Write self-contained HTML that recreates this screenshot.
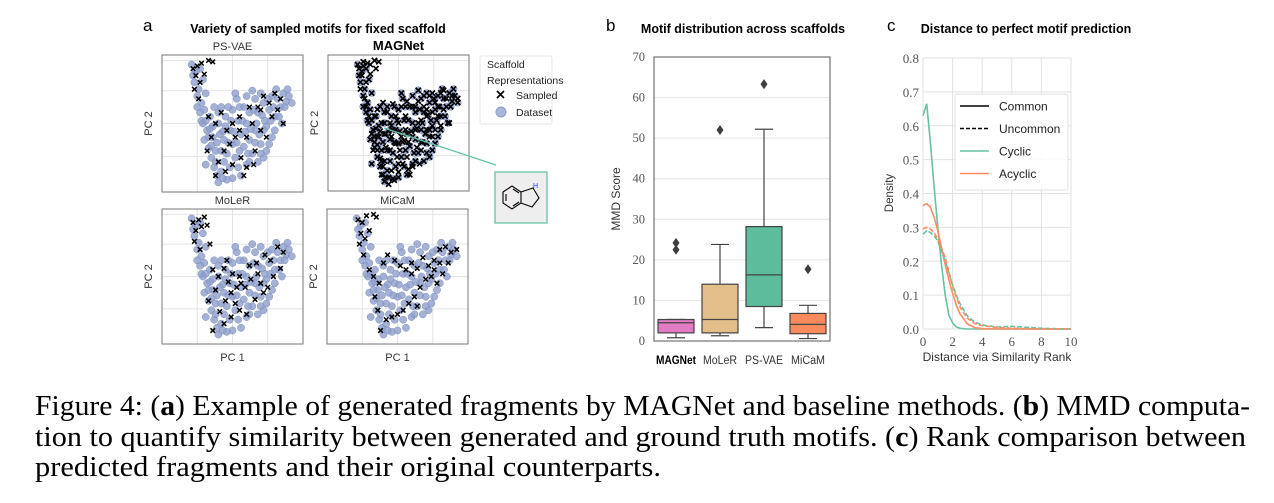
<!DOCTYPE html>
<html><head><meta charset="utf-8"><style>
html,body{margin:0;padding:0;background:#fff;}
svg{display:block;}
.sans{font-family:"Liberation Sans","DejaVu Sans",sans-serif;}
.serif{font-family:"Liberation Serif","DejaVu Serif",serif;}
</style></head><body>
<svg id="fig" width="1274" height="503" viewBox="0 0 1274 503" xmlns="http://www.w3.org/2000/svg">
<g id="pa"></g>
<g id="pb"></g>
<g id="pc"></g>
<g id="cap" class="serif" font-size="28" fill="#000">
<text x="35" y="415" textLength="1215" lengthAdjust="spacingAndGlyphs">Figure 4: (<tspan font-weight="bold">a</tspan>) Example of generated fragments by MAGNet and baseline methods. (<tspan font-weight="bold">b</tspan>) MMD computa-</text>
<text x="35" y="446" textLength="1211" lengthAdjust="spacingAndGlyphs">tion to quantify similarity between generated and ground truth motifs. (<tspan font-weight="bold">c</tspan>) Rank comparison between</text>
<text x="35" y="476" textLength="626" lengthAdjust="spacingAndGlyphs">predicted fragments and their original counterparts.</text>
</g>
</svg>
<script>
// ---------- Panel a data (normalized PC coordinates) ----------
const datasetPts = [[.21,.93],[.24,.88],[.27,.9],[.23,.8],[.26,.75],[.29,.82],[.25,.7],[.28,.65],[.31,.72],[.3,.6],[.27,.58],
[.29,.5],[.32,.45],[.3,.38],[.33,.32],[.35,.25],[.37,.18],[.39,.12],[.4,.07],[.42,.15],[.44,.22],[.38,.3],[.36,.4],[.34,.55],
[.4,.5],[.45,.55],[.5,.6],[.48,.45],[.44,.38],[.5,.35],[.46,.28],[.52,.25],[.48,.18],[.55,.3],[.56,.42],[.6,.5],[.58,.62],[.62,.38],[.64,.28],[.6,.2],[.66,.45],[.68,.58],[.7,.35],[.72,.65],[.74,.48],[.76,.6],[.78,.7],[.8,.55],[.82,.68],[.84,.62],[.86,.72],[.88,.66],[.9,.7],[.78,.4],[.72,.25],[.42,.62],[.54,.52],[.66,.68],[.56,.12],[.5,.1],[.46,.09],[.62,.58],[.36,.48],[.74,.3],[.85,.5],[.92,.65],[.53,.68],[.6,.7],[.7,.72],[.31,.2],[.43,.44],[.58,.33],[.68,.22],[.39,.36],
[.22,.85],[.25,.62],[.28,.52],[.31,.52],[.33,.4],[.35,.34],[.37,.62],[.4,.58],[.42,.3],[.41,.42],[.45,.48],[.47,.62],[.49,.52],[.51,.44],[.53,.36],[.55,.62],[.57,.52],[.59,.44],[.61,.28],[.63,.46],[.65,.6],[.67,.5],[.69,.42],[.71,.56],[.73,.52],[.75,.68],[.77,.52],[.79,.62],[.81,.75],[.83,.55],[.87,.62],[.89,.75],[.76,.35],[.7,.28],[.66,.36],[.62,.22],[.54,.18],[.47,.36],[.43,.1],[.38,.22],[.34,.46],[.52,.72],[.64,.74],[.8,.45],[.72,.45]];
const psvaeSampled = [[.22,.9],[.25,.92],[.28,.94],[.24,.85],[.27,.8],[.23,.75],[.26,.68],[.3,.86],[.33,.96],[.36,.95],[.33,.55],[.38,.5],[.42,.58],[.46,.45],[.5,.5],[.55,.55],[.52,.4],[.48,.35],[.44,.3],[.4,.22],[.45,.15],[.5,.2],[.56,.25],[.6,.4],[.64,.5],[.68,.62],[.7,.45],[.72,.7],[.76,.65],[.8,.72],[.78,.55],[.74,.4],[.66,.3],[.6,.18],[.58,.12],[.84,.68],[.82,.6],[.86,.5],[.62,.62],[.35,.4],[.32,.3],[.38,.12],[.55,.45],[.65,.2],[.7,.6]];
const magnetExtra = [[.25,.95],[.3,.93],[.34,.9],[.27,.62],[.29,.55],[.31,.42],[.33,.36],[.35,.3],[.37,.24],[.39,.18],[.41,.1],[.43,.05],[.47,.08],[.5,.14],[.53,.2],[.57,.16],[.4,.42],[.44,.5],[.48,.55],[.52,.62],[.56,.66],[.6,.62],[.64,.66],[.68,.7],[.74,.72],[.82,.74],[.88,.7],[.92,.68],[.46,.64],[.51,.3],[.57,.36],[.62,.45],[.66,.52],[.7,.55],[.74,.58],[.78,.62],[.8,.48],[.76,.45],[.72,.4],[.67,.36],[.63,.32],[.45,.4],[.41,.32],[.37,.44],[.35,.6],[.39,.65],[.49,.25],[.54,.37]];
const magnetSampled = [...datasetPts, ...psvaeSampled, ...magnetExtra];
const molerSampled = [[.22,.9],[.26,.92],[.3,.94],[.24,.84],[.28,.87],[.23,.76],[.27,.7],[.32,.88],[.34,.74],[.36,.55],[.4,.5],[.44,.56],[.47,.46],[.5,.52],[.55,.5],[.53,.42],[.49,.38],[.45,.32],[.41,.24],[.44,.15],[.49,.2],[.55,.25],[.59,.42],[.63,.48],[.67,.6],[.7,.45],[.73,.66],[.77,.62],[.82,.72],[.86,.68],[.79,.5],[.75,.42],[.66,.33],[.6,.22],[.36,.1],[.62,.58],[.38,.4],[.33,.32],[.56,.45],[.68,.52],[.84,.56],[.46,.62],[.52,.3],[.72,.38]];
const micamSampled = [[.22,.92],[.25,.9],[.28,.95],[.33,.96],[.35,.94],[.24,.82],[.27,.78],[.23,.74],[.26,.66],[.3,.84],[.3,.55],[.33,.5],[.37,.45],[.4,.6],[.43,.66],[.48,.62],[.52,.58],[.56,.55],[.6,.6],[.64,.56],[.68,.64],[.72,.58],[.76,.62],[.8,.7],[.84,.72],[.88,.68],[.92,.7],[.86,.6],[.82,.52],[.78,.45],[.74,.5],[.7,.48],[.66,.42],[.62,.35],[.58,.3],[.54,.25],[.5,.22],[.46,.2],[.42,.18],[.38,.1],[.34,.35],[.36,.25],[.6,.52],[.64,.28],[.8,.6],[.76,.55]];

// ---------- Panel b data ----------
const bCats = ["MAGNet","MoLeR","PS-VAE","MiCaM"];
const bWhiskLo = [0.8, 1.3, 3.3, 0.6];
const bQ1 = [2.0, 2.0, 8.5, 1.8];
const bMed = [4.5, 5.3, 16.3, 4.1];
const bQ3 = [5.3, 14.0, 28.2, 6.8];
const bWhiskHi = [5.3, 23.8, 52.2, 8.8];
const bOutliers = [[22.5, 24.2], [52], [63.3], [17.7]];
const bColors = ["#e27ac4","#e2bf8a","#5cbc9b","#f98a5e"];
const bTicks = [0,10,20,30,40,50,60,70];

// ---------- Panel c data ----------
const cX = [0,0.25,0.5,0.75,1,1.25,1.5,1.75,2,2.25,2.5,3,3.5,4,5,6,7,8,9,10];
const cCyclicCommon   = [0.63,0.665,0.55,0.42,0.30,0.19,0.10,0.04,0.018,0.006,0.002,0,0,0,0,0,0,0,0,0];
const cAcyclicCommon  = [0.365,0.37,0.36,0.33,0.29,0.24,0.19,0.145,0.105,0.07,0.045,0.015,0.004,0.001,0,0,0,0,0,0];
const cCyclicUncommon = [0.28,0.29,0.285,0.275,0.26,0.23,0.20,0.165,0.13,0.1,0.075,0.038,0.02,0.012,0.006,0.008,0.005,0.002,0.001,0];
const cAcyclicUncommon= [0.295,0.30,0.295,0.285,0.265,0.24,0.21,0.17,0.125,0.095,0.065,0.032,0.016,0.01,0.004,0.002,0.001,0,0,0];
const cXTicks = [0,2,4,6,8,10];
const cYTicks = [0,0.1,0.2,0.3,0.4,0.5,0.6,0.7,0.8];

const NS = "http://www.w3.org/2000/svg";
function mk(parent, tag, attrs, text){
  const e = document.createElementNS(NS, tag);
  for (const k in attrs) e.setAttribute(k, attrs[k]);
  if (text !== undefined) e.textContent = text;
  parent.appendChild(e);
  return e;
}

// ===== Panel a =====
const pa = document.getElementById('pa');
let t = mk(pa,'text',{x:143,y:31,'font-size':17,class:'sans'},'a');


t = mk(pa,'text',{x:318,y:33,'font-size':12.5,'font-weight':'bold','text-anchor':'middle',class:'sans'},'Variety of sampled motifs for fixed scaffold');



const panels = [
  {name:'PS-VAE', x:162,y:55,w:141,h:137, pts:psvaeSampled, bold:false, xlab:false},
  {name:'MAGNet', x:328,y:55,w:141,h:136, pts:magnetSampled, bold:true, xlab:false},
  {name:'MoLeR', x:162,y:209,w:141,h:135, pts:molerSampled, bold:false, xlab:true},
  {name:'MiCaM', x:327,y:209,w:141,h:135, pts:micamSampled, bold:false, xlab:true}
];
panels.forEach(p=>{
  const g = mk(pa,'g',{});
  
  
  const sx = v => p.x + v*p.w;
  const sy = v => p.y + p.h - v*p.h;
  [0.04,0.26,0.5,0.74].forEach(f=>{
    mk(g,'line',{x1:p.x,x2:p.x+p.w,y1:p.y+f*p.h,y2:p.y+f*p.h,stroke:'#e4e4e4','stroke-width':1});
  });
  [0.25,0.5,0.75].forEach(f=>{
    mk(g,'line',{y1:p.y,y2:p.y+p.h,x1:p.x+f*p.w,x2:p.x+f*p.w,stroke:'#e4e4e4','stroke-width':1});
  });
  datasetPts.forEach(d=>{
    const c = mk(g,'circle',{cx:sx(d[0]),cy:sy(d[1]),r:3.6,fill:'#8f9fcc','fill-opacity':0.8,stroke:'#7d8fc2','stroke-width':0.5});
    
    
  });
  const s = p.name==='MAGNet' ? 2.6 : 2.3;
  p.pts.forEach(d=>{
    const X = sx(d[0]), Y = sy(d[1]);
    const m = mk(g,'path',{d:`M${X-s},${Y-s}L${X+s},${Y+s}M${X-s},${Y+s}L${X+s},${Y-s}`,stroke:'#000','stroke-width':p.name==='MAGNet'?1.7:1.5});
    
    
  });
  mk(g,'rect',{x:p.x,y:p.y,width:p.w,height:p.h,fill:'none',stroke:'#777','stroke-width':1});
  t = mk(g,'text',{x:p.x+p.w/2,y:p.y-5,'font-size':p.bold?13:11,'font-weight':p.bold?'bold':'normal','text-anchor':'middle',fill:p.bold?'#000':'#333',class:'sans'},p.name);
  
  
  t = mk(g,'text',{x:p.x-10,y:p.y+p.h/2,'font-size':11,'text-anchor':'middle',fill:'#333',class:'sans',transform:`rotate(-90 ${p.x-10} ${p.y+p.h/2})`},'PC 2');
  
  
  if (p.xlab){
    t = mk(g,'text',{x:p.x+p.w/2,y:p.y+p.h+17,'font-size':11,'text-anchor':'middle',fill:'#333',class:'sans'},'PC 1');
    
    
  }
});
let ln = mk(pa,'line',{x1:384,y1:128,x2:496,y2:165,stroke:'#66c2a5','stroke-width':1.3});


const mol = mk(pa,'g',{});


mk(mol,'rect',{x:495,y:172,width:52,height:51,fill:'#efeeee',stroke:'#66c2a5','stroke-width':1.3});
mk(mol,'path',{d:'M503,192 L512,186 L521,192 L521,203 L512,209 L503,203 Z M521,192 L533,188 L539,198 L532,207 L521,203 M506,194 L506,201 M513,189 L519,193 M513,206 L519,202',fill:'none',stroke:'#000','stroke-width':1.1});
mk(mol,'text',{x:533,y:188,'font-size':7,fill:'#33f',class:'sans'},'H');
const lg = mk(pa,'g',{class:'sans','font-size':10.5,fill:'#222'});


mk(lg,'rect',{x:480,y:56,width:72,height:68,rx:2,fill:'#fff',stroke:'#e6e6e6'});
mk(lg,'text',{x:487,y:68},'Scaffold');
mk(lg,'text',{x:487,y:84},'Representations');
mk(lg,'path',{d:'M497,91 L504,98 M497,98 L504,91',stroke:'#000','stroke-width':1.6});
mk(lg,'text',{x:516,y:99},'Sampled');
mk(lg,'circle',{cx:501,cy:112,r:5,fill:'#a9b4d8',stroke:'#8f9fcc'});
mk(lg,'text',{x:516,y:116},'Dataset');

// ===== Panel b =====
const pb = document.getElementById('pb');
const bx0=654,bx1=830,by0=57,by1=341;
const byS = v => by1 - (v/70)*(by1-by0);
const bxS = i => bx0 + (i+0.5)*(bx1-bx0)/bCats.length;
t = mk(pb,'text',{x:606,y:31,'font-size':17,class:'sans'},'b');


t = mk(pb,'text',{x:743,y:33,'font-size':12.5,'font-weight':'bold','text-anchor':'middle',class:'sans'},'Motif distribution across scaffolds');


bTicks.forEach(v=>{
  const gl = mk(pb,'line',{x1:bx0,x2:bx1,y1:byS(v),y2:byS(v),stroke:'#e4e4e4'});
  
  
  const tl = mk(pb,'text',{x:bx0-9,y:byS(v)+4,'font-size':12.5,'text-anchor':'end',fill:'#555',class:'serif'},String(v));
  
  
});
const bw = 36;
bCats.forEach((c,i)=>{
  const g = mk(pb,'g',{});
  
  
  const cx = bxS(i);
  mk(g,'line',{x1:cx,x2:cx,y1:byS(bWhiskLo[i]),y2:byS(bQ1[i]),stroke:'#444','stroke-width':1.2});
  mk(g,'line',{x1:cx,x2:cx,y1:byS(bQ3[i]),y2:byS(bWhiskHi[i]),stroke:'#444','stroke-width':1.2});
  mk(g,'line',{x1:cx-bw/4,x2:cx+bw/4,y1:byS(bWhiskLo[i]),y2:byS(bWhiskLo[i]),stroke:'#444','stroke-width':1.2});
  mk(g,'line',{x1:cx-bw/4,x2:cx+bw/4,y1:byS(bWhiskHi[i]),y2:byS(bWhiskHi[i]),stroke:'#444','stroke-width':1.2});
  mk(g,'rect',{x:cx-bw/2,y:byS(bQ3[i]),width:bw,height:byS(bQ1[i])-byS(bQ3[i]),fill:bColors[i],stroke:'#444','stroke-width':1.2});
  mk(g,'line',{x1:cx-bw/2,x2:cx+bw/2,y1:byS(bMed[i]),y2:byS(bMed[i]),stroke:'#444','stroke-width':1.2});
  bOutliers[i].forEach(o=>{
    const y = byS(o);
    const d = mk(g,'path',{d:`M${cx},${y-5}L${cx+3.5},${y}L${cx},${y+5}L${cx-3.5},${y}Z`,fill:'#3d3d3d'});
    
    
  });
  const tl = mk(pb,'text',{x:cx,y:364,'font-size':11.5,'text-anchor':'middle','font-weight':c==='MAGNet'?'bold':'normal',fill:c==='MAGNet'?'#000':'#333',class:'sans',textLength:c==='MAGNet'?'40':(c==='PS-VAE'?'38':'34'),lengthAdjust:'spacingAndGlyphs'},c);
  
  
});
mk(pb,'rect',{x:bx0,y:by0,width:bx1-bx0,height:by1-by0,fill:'none',stroke:'#555','stroke-width':1});
t = mk(pb,'text',{x:620,y:199,'font-size':12,'text-anchor':'middle',fill:'#333',class:'sans',transform:'rotate(-90 620 199)'},'MMD Score');



// ===== Panel c =====
const pc = document.getElementById('pc');
const cx0=923,cx1=1071,cy0=58,cy1=329;
const cxS = v => cx0 + (v/10)*(cx1-cx0);
const cyS = v => cy1 - (v/0.8)*(cy1-cy0);
t = mk(pc,'text',{x:887,y:31,'font-size':17,class:'sans'},'c');


t = mk(pc,'text',{x:1026,y:33,'font-size':12.5,'font-weight':'bold','text-anchor':'middle',class:'sans'},'Distance to perfect motif prediction');


cYTicks.forEach(v=>{
  mk(pc,'line',{x1:cx0,x2:cx1,y1:cyS(v),y2:cyS(v),stroke:'#e2e2e2'});
  const tl = mk(pc,'text',{x:cx0-4,y:cyS(v)+5,'font-size':13,'text-anchor':'end',fill:'#555',class:'serif'},v.toFixed(1));
  
  
});
cXTicks.forEach(v=>{
  mk(pc,'line',{y1:cy0,y2:cy1,x1:cxS(v),x2:cxS(v),stroke:'#e2e2e2'});
  const tl = mk(pc,'text',{x:cxS(v),y:cy1+17,'font-size':13,'text-anchor':'middle',fill:'#555',class:'serif'},String(v));
  
  
});
const series = [
  {name:'cyclic-common',vals:cCyclicCommon,col:'#66c2a5',dash:''},
  {name:'acyclic-common',vals:cAcyclicCommon,col:'#fc8d62',dash:''},
  {name:'cyclic-uncommon',vals:cCyclicUncommon,col:'#66c2a5',dash:'5,2'},
  {name:'acyclic-uncommon',vals:cAcyclicUncommon,col:'#fc8d62',dash:'5,2'}
];
series.forEach(s=>{
  const d = s.vals.map((v,i)=>(i?'L':'M')+cxS(cX[i]).toFixed(1)+','+cyS(v).toFixed(1)).join('');
  const p = mk(pc,'path',{d:d,fill:'none',stroke:s.col,'stroke-width':1.6,'stroke-dasharray':s.dash});
  
  
});
t = mk(pc,'text',{x:893,y:193,'font-size':11.5,'text-anchor':'middle',fill:'#333',class:'sans',transform:'rotate(-90 893 193)'},'Density');


t = mk(pc,'text',{x:997,y:361,'font-size':12,'text-anchor':'middle',fill:'#333',class:'sans'},'Distance via Similarity Rank');


const lc = mk(pc,'g',{class:'sans','font-size':12,fill:'#222'});


mk(lc,'rect',{x:955,y:94,width:113,height:96,rx:2,fill:'#fff','fill-opacity':0.9,stroke:'#e2e2e2'});
const legItems = [['Common','#000',''],['Uncommon','#000','4,2'],['Cyclic','#66c2a5',''],['Acyclic','#fc8d62','']];
legItems.forEach((it,i)=>{
  const y = 106 + i*22.5;
  mk(lc,'line',{x1:960,x2:989,y1:y,y2:y,stroke:it[1],'stroke-width':1.6,'stroke-dasharray':it[2]});
  const tx = mk(lc,'text',{x:999,y:y+4.5},it[0]);
  
  
});
</script>
</body></html>
